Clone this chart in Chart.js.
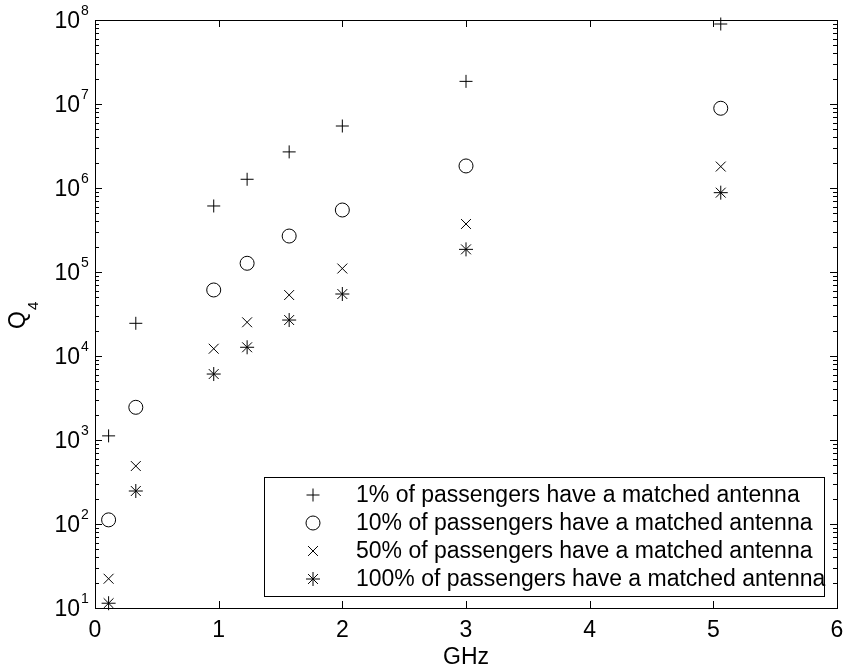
<!DOCTYPE html>
<html><head><meta charset="utf-8">
<script src="https://cdn.jsdelivr.net/npm/chart.js@4/dist/chart.umd.min.js"></script>
<style>html,body{margin:0;padding:0;background:#fff}canvas{display:block}</style>
</head><body>
<canvas id="c" width="845" height="671"></canvas>
<script>
// ---- data ----
const freqsGHz = [0.11, 0.33, 0.96, 1.23, 1.57, 2.0, 3.0, 5.06];
const q4_1pct   = [1120, 24500, 611000, 1.27e6, 2.69e6, 5.47e6, 1.86e7, 8.96e7];
const q4_10pct  = [112, 2450, 61100, 1.27e5, 2.68e5, 5.47e5, 1.83e6, 8.9e6];
const q4_50pct  = [22.3, 490, 12200, 25200, 53200, 1.1e5, 3.73e5, 1.8e6];
const q4_100pct = [11.4, 247, 6100, 12700, 26800, 54700, 1.86e5, 8.8e5];
const seriesLabels = [
  '1% of passengers have a matched antenna',
  '10% of passengers have a matched antenna',
  '50% of passengers have a matched antenna',
  '100% of passengers have a matched antenna'
];
const xTickValues = [0, 1, 2, 3, 4, 5, 6];
const yTickExponents = [1, 2, 3, 4, 5, 6, 7, 8];
const xTitle = 'GHz';
const yTitleMain = 'Q';
const yTitleSub = '4';

const FONT = "'Liberation Sans', Arial, Helvetica, sans-serif";
const styles = ['cross', 'circle', 'crossRot', 'star'];
const radii = [6.5, 7, 7, 7];
const seriesValues = [q4_1pct, q4_10pct, q4_50pct, q4_100pct];

const datasets = seriesValues.map((vals, i) => ({
  label: seriesLabels[i],
  data: freqsGHz.map((f, j) => ({x: f, y: vals[j]})),
  pointStyle: styles[i],
  pointRadius: radii[i],
  pointHoverRadius: radii[i],
  borderColor: '#000',
  backgroundColor: 'rgba(0,0,0,0)',
  pointBorderWidth: 1,
  showLine: false,
  clip: false
}));

function drawMarker(ctx, style, x, y, r) {
  ctx.beginPath();
  if (style === 'cross' || style === 'star') {
    ctx.moveTo(x - r, y); ctx.lineTo(x + r, y);
    ctx.moveTo(x, y - r); ctx.lineTo(x, y + r);
  }
  if (style === 'crossRot' || style === 'star') {
    const d = r * Math.SQRT1_2;
    ctx.moveTo(x - d, y - d); ctx.lineTo(x + d, y + d);
    ctx.moveTo(x - d, y + d); ctx.lineTo(x + d, y - d);
  }
  if (style === 'circle') {
    ctx.arc(x, y, r, 0, Math.PI * 2);
  }
  ctx.stroke();
}

const axesPlugin = {
  id: 'matlabAxes',
  afterDraw(chart) {
    const ctx = chart.ctx;
    const a = chart.chartArea;
    const xs = chart.scales.x, ys = chart.scales.y;
    ctx.save();
    ctx.strokeStyle = '#000';
    ctx.fillStyle = '#000';
    ctx.lineWidth = 1;
    // box
    ctx.strokeRect(Math.round(a.left) + 0.5, Math.round(a.top) + 0.5,
      Math.round(a.right - a.left), Math.round(a.bottom - a.top));
    // x ticks
    const majorLen = 7, minorLen = 4;
    ctx.beginPath();
    xTickValues.forEach(v => {
      const px = Math.round(xs.getPixelForValue(v)) + 0.5;
      ctx.moveTo(px, a.bottom); ctx.lineTo(px, a.bottom - majorLen);
      ctx.moveTo(px, a.top); ctx.lineTo(px, a.top + majorLen);
    });
    // y ticks (log, with minors)
    yTickExponents.forEach(e => {
      const py = Math.round(ys.getPixelForValue(Math.pow(10, e))) + 0.5;
      ctx.moveTo(a.left, py); ctx.lineTo(a.left + majorLen, py);
      ctx.moveTo(a.right, py); ctx.lineTo(a.right - majorLen, py);
      if (e < yTickExponents[yTickExponents.length - 1]) {
        for (let k = 2; k <= 9; k++) {
          const pm = Math.round(ys.getPixelForValue(k * Math.pow(10, e))) + 0.5;
          ctx.moveTo(a.left, pm); ctx.lineTo(a.left + minorLen, pm);
          ctx.moveTo(a.right, pm); ctx.lineTo(a.right - minorLen, pm);
        }
      }
    });
    ctx.stroke();

    // x tick labels
    ctx.font = '23px ' + FONT;
    ctx.textAlign = 'center';
    ctx.textBaseline = 'middle';
    xTickValues.forEach(v => {
      ctx.fillText(String(v), xs.getPixelForValue(v), a.bottom + 23);
    });
    // y tick labels 10^e
    yTickExponents.forEach(e => {
      const py = ys.getPixelForValue(Math.pow(10, e));
      ctx.font = '23px ' + FONT;
      ctx.textAlign = 'right';
      ctx.textBaseline = 'middle';
      ctx.fillText('10', a.left - 15, py + 1.5);
      ctx.font = '14px ' + FONT;
      ctx.textAlign = 'left';
      ctx.textBaseline = 'alphabetic';
      ctx.fillText(String(e), a.left - 14, py - 5);
    });
    // x title
    ctx.font = '23px ' + FONT;
    ctx.textAlign = 'center';
    ctx.textBaseline = 'middle';
    ctx.fillText(xTitle, (a.left + a.right) / 2, a.bottom + 50);
    // y title (rotated)
    ctx.save();
    ctx.translate(19, (a.top + a.bottom) / 2 + 6);
    ctx.rotate(-Math.PI / 2);
    ctx.font = '23px ' + FONT;
    ctx.textAlign = 'center';
    ctx.textBaseline = 'middle';
    ctx.fillText(yTitleMain, 0, 0);
    ctx.font = '15px ' + FONT;
    ctx.textAlign = 'left';
    ctx.textBaseline = 'alphabetic';
    ctx.fillText(yTitleSub, 10, 19);
    ctx.restore();

    // legend box
    const lx = 264, ly = 477, lw = 560, lh = 119;
    ctx.fillStyle = '#fff';
    ctx.fillRect(lx, ly, lw, lh);
    ctx.strokeStyle = '#000';
    ctx.strokeRect(lx + 0.5, ly + 0.5, lw, lh);
    ctx.fillStyle = '#000';
    ctx.font = '23px ' + FONT;
    ctx.textAlign = 'left';
    ctx.textBaseline = 'middle';
    seriesLabels.forEach((lab, i) => {
      const yy = 495 + i * 28;
      drawMarker(ctx, styles[i], 313, yy, radii[i]);
      ctx.fillText(lab, 356, yy + 1);
    });
    ctx.restore();
  }
};

new Chart(document.getElementById('c'), {
  type: 'scatter',
  data: { datasets },
  options: {
    responsive: false,
    animation: false,
    layout: { padding: { left: 95, top: 20, right: 5, bottom: 63 } },
    plugins: { legend: { display: false }, tooltip: { enabled: false } },
    scales: {
      x: { type: 'linear', min: 0, max: 6, display: false },
      y: { type: 'logarithmic', min: 10, max: 1e8, display: false }
    }
  },
  plugins: [axesPlugin]
});
</script>
</body></html>
